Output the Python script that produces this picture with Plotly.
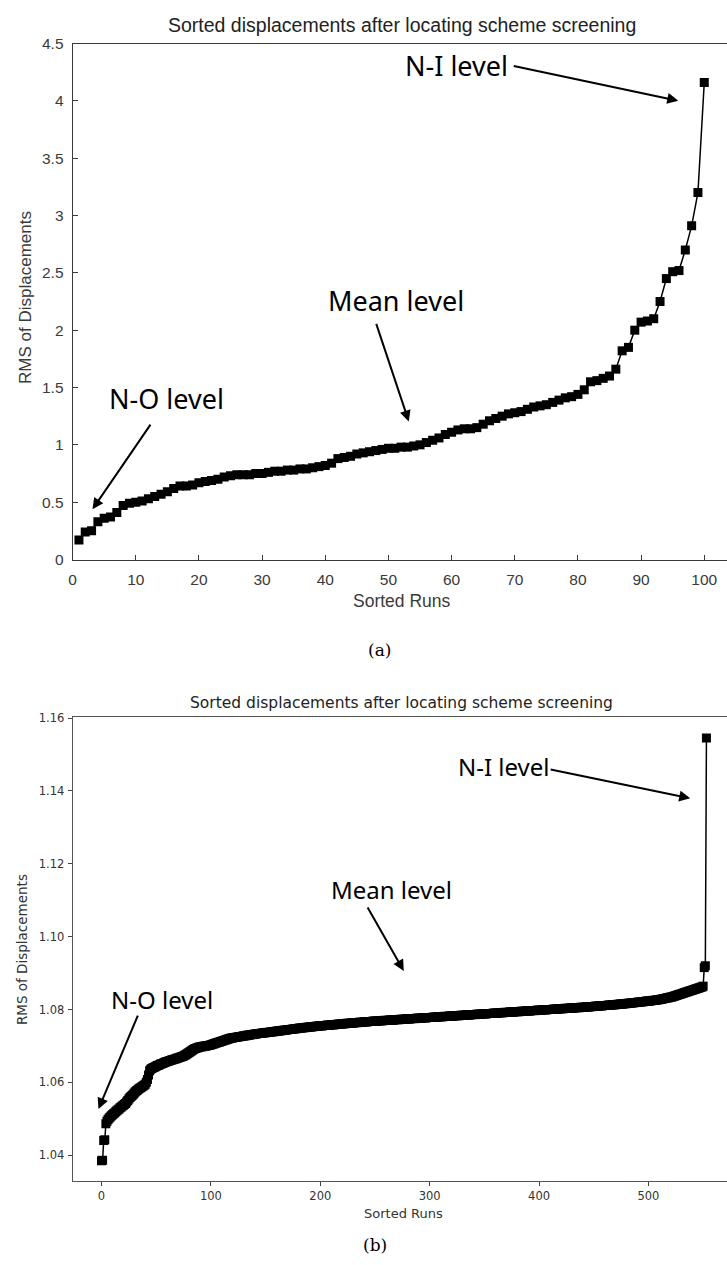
import plotly.graph_objects as go

W, H = 727, 1265

# ---------------- data ----------------
top_runs = list(range(1, 101))
top_rms = [
    0.17, 0.24, 0.25, 0.33, 0.36, 0.37, 0.41, 0.47, 0.49, 0.50,
    0.51, 0.53, 0.55, 0.57, 0.59, 0.62, 0.64, 0.64, 0.65, 0.67,
    0.68, 0.69, 0.70, 0.72, 0.73, 0.74, 0.74, 0.74, 0.75, 0.75,
    0.76, 0.77, 0.77, 0.78, 0.78, 0.79, 0.79, 0.80, 0.81, 0.82,
    0.84, 0.88, 0.89, 0.90, 0.92, 0.93, 0.94, 0.95, 0.96, 0.97,
    0.97, 0.98, 0.98, 0.99, 1.00, 1.02, 1.04, 1.06, 1.09, 1.11,
    1.13, 1.14, 1.14, 1.15, 1.18, 1.21, 1.23, 1.25, 1.27, 1.28,
    1.29, 1.31, 1.33, 1.34, 1.35, 1.37, 1.39, 1.41, 1.42, 1.44,
    1.48, 1.55, 1.56, 1.58, 1.60, 1.66, 1.82, 1.85, 2.00, 2.07,
    2.08, 2.10, 2.25, 2.45, 2.51, 2.52, 2.70, 2.91, 3.20, 4.16,
]

bot_rms = [
    1.0385, 1.0386, 1.0440, 1.0442, 1.0486, 1.0493, 1.0498, 1.0502, 1.0505, 1.0508,
    1.0511, 1.0514, 1.0516, 1.0519, 1.0522, 1.0525, 1.0527, 1.0530, 1.0532, 1.0535,
    1.0537, 1.0540, 1.0542, 1.0546, 1.0550, 1.0554, 1.0558, 1.0561, 1.0564, 1.0567,
    1.0571, 1.0574, 1.0577, 1.0579, 1.0582, 1.0584, 1.0586, 1.0588, 1.0590, 1.0592,
    1.0595, 1.0600, 1.0608, 1.0620, 1.0632, 1.0636, 1.0638, 1.0640, 1.0641, 1.0643,
    1.0644, 1.0646, 1.0647, 1.0648, 1.0650, 1.0651, 1.0652, 1.0654, 1.0655, 1.0656,
    1.0657, 1.0658, 1.0659, 1.0660, 1.0661, 1.0662, 1.0663, 1.0664, 1.0665, 1.0666,
    1.0667, 1.0668, 1.0669, 1.0670, 1.0671, 1.0672, 1.0674, 1.0676, 1.0678, 1.0680,
    1.0682, 1.0684, 1.0686, 1.0688, 1.0690, 1.0692, 1.0693, 1.0694, 1.0695, 1.0696,
    1.0697, 1.0698, 1.0698, 1.0699, 1.0699, 1.0700, 1.0700, 1.0701, 1.0701, 1.0702,
    1.0703, 1.0704, 1.0705, 1.0706, 1.0707, 1.0708, 1.0709, 1.0710, 1.0711, 1.0712,
    1.0713, 1.0714, 1.0715, 1.0716, 1.0717, 1.0718, 1.0719, 1.0720, 1.0721, 1.0722,
    1.0722, 1.0723, 1.0723, 1.0724, 1.0724, 1.0725, 1.0725, 1.0726, 1.0726, 1.0727,
    1.0727, 1.0728, 1.0728, 1.0729, 1.0729, 1.0730, 1.0730, 1.0731, 1.0731, 1.0732,
    1.0732, 1.0733, 1.0733, 1.0734, 1.0734, 1.0734, 1.0735, 1.0735, 1.0736, 1.0736,
    1.0736, 1.0737, 1.0737, 1.0737, 1.0738, 1.0738, 1.0739, 1.0739, 1.0739, 1.0740,
    1.0740, 1.0741, 1.0741, 1.0741, 1.0742, 1.0742, 1.0743, 1.0743, 1.0743, 1.0744,
    1.0744, 1.0745, 1.0745, 1.0745, 1.0746, 1.0746, 1.0747, 1.0747, 1.0747, 1.0748,
    1.0748, 1.0749, 1.0749, 1.0749, 1.0750, 1.0750, 1.0750, 1.0751, 1.0751, 1.0751,
    1.0752, 1.0752, 1.0752, 1.0753, 1.0753, 1.0753, 1.0754, 1.0754, 1.0754, 1.0755,
    1.0755, 1.0755, 1.0755, 1.0756, 1.0756, 1.0756, 1.0757, 1.0757, 1.0757, 1.0757,
    1.0758, 1.0758, 1.0758, 1.0758, 1.0759, 1.0759, 1.0759, 1.0760, 1.0760, 1.0760,
    1.0760, 1.0761, 1.0761, 1.0761, 1.0762, 1.0762, 1.0762, 1.0762, 1.0763, 1.0763,
    1.0763, 1.0763, 1.0764, 1.0764, 1.0764, 1.0764, 1.0765, 1.0765, 1.0765, 1.0765,
    1.0766, 1.0766, 1.0766, 1.0766, 1.0767, 1.0767, 1.0767, 1.0767, 1.0768, 1.0768,
    1.0768, 1.0768, 1.0768, 1.0769, 1.0769, 1.0769, 1.0769, 1.0769, 1.0770, 1.0770,
    1.0770, 1.0770, 1.0770, 1.0771, 1.0771, 1.0771, 1.0771, 1.0771, 1.0772, 1.0772,
    1.0772, 1.0772, 1.0772, 1.0773, 1.0773, 1.0773, 1.0773, 1.0773, 1.0774, 1.0774,
    1.0774, 1.0774, 1.0774, 1.0775, 1.0775, 1.0775, 1.0775, 1.0775, 1.0776, 1.0776,
    1.0776, 1.0776, 1.0776, 1.0777, 1.0777, 1.0777, 1.0777, 1.0777, 1.0778, 1.0778,
    1.0778, 1.0778, 1.0778, 1.0779, 1.0779, 1.0779, 1.0779, 1.0779, 1.0780, 1.0780,
    1.0780, 1.0780, 1.0780, 1.0781, 1.0781, 1.0781, 1.0781, 1.0781, 1.0782, 1.0782,
    1.0782, 1.0782, 1.0782, 1.0783, 1.0783, 1.0783, 1.0783, 1.0783, 1.0784, 1.0784,
    1.0784, 1.0784, 1.0784, 1.0785, 1.0785, 1.0785, 1.0785, 1.0785, 1.0786, 1.0786,
    1.0786, 1.0786, 1.0786, 1.0787, 1.0787, 1.0787, 1.0787, 1.0787, 1.0788, 1.0788,
    1.0788, 1.0788, 1.0788, 1.0789, 1.0789, 1.0789, 1.0789, 1.0789, 1.0790, 1.0790,
    1.0790, 1.0790, 1.0790, 1.0791, 1.0791, 1.0791, 1.0791, 1.0791, 1.0792, 1.0792,
    1.0792, 1.0792, 1.0792, 1.0793, 1.0793, 1.0793, 1.0793, 1.0793, 1.0794, 1.0794,
    1.0794, 1.0794, 1.0794, 1.0795, 1.0795, 1.0795, 1.0795, 1.0795, 1.0796, 1.0796,
    1.0796, 1.0796, 1.0796, 1.0797, 1.0797, 1.0797, 1.0797, 1.0797, 1.0798, 1.0798,
    1.0798, 1.0798, 1.0798, 1.0799, 1.0799, 1.0799, 1.0799, 1.0799, 1.0800, 1.0800,
    1.0800, 1.0800, 1.0800, 1.0801, 1.0801, 1.0801, 1.0801, 1.0801, 1.0802, 1.0802,
    1.0802, 1.0802, 1.0802, 1.0803, 1.0803, 1.0803, 1.0803, 1.0803, 1.0804, 1.0804,
    1.0804, 1.0804, 1.0804, 1.0805, 1.0805, 1.0805, 1.0805, 1.0805, 1.0806, 1.0806,
    1.0806, 1.0806, 1.0806, 1.0807, 1.0807, 1.0807, 1.0807, 1.0808, 1.0808, 1.0808,
    1.0808, 1.0809, 1.0809, 1.0809, 1.0809, 1.0810, 1.0810, 1.0810, 1.0810, 1.0811,
    1.0811, 1.0811, 1.0811, 1.0812, 1.0812, 1.0812, 1.0812, 1.0813, 1.0813, 1.0813,
    1.0813, 1.0814, 1.0814, 1.0814, 1.0815, 1.0815, 1.0815, 1.0815, 1.0816, 1.0816,
    1.0816, 1.0817, 1.0817, 1.0817, 1.0818, 1.0818, 1.0818, 1.0819, 1.0819, 1.0819,
    1.0820, 1.0820, 1.0820, 1.0821, 1.0821, 1.0821, 1.0822, 1.0822, 1.0823, 1.0823,
    1.0823, 1.0823, 1.0824, 1.0824, 1.0825, 1.0825, 1.0825, 1.0826, 1.0826, 1.0827,
    1.0827, 1.0828, 1.0828, 1.0829, 1.0830, 1.0830, 1.0831, 1.0832, 1.0832, 1.0833,
    1.0834, 1.0834, 1.0835, 1.0836, 1.0837, 1.0838, 1.0839, 1.0840, 1.0841, 1.0842,
    1.0843, 1.0844, 1.0845, 1.0846, 1.0847, 1.0848, 1.0849, 1.0850, 1.0851, 1.0852,
    1.0853, 1.0854, 1.0855, 1.0856, 1.0857, 1.0858, 1.0859, 1.0860, 1.0861, 1.0862,
    1.0864, 1.0915, 1.0920, 1.1545,
]
bot_runs = list(range(len(bot_rms)))

top_xticks = [0, 10, 20, 30, 40, 50, 60, 70, 80, 90, 100]
top_yticks = [0, 0.5, 1, 1.5, 2, 2.5, 3, 3.5, 4, 4.5]
bot_xticks = [0, 100, 200, 300, 400, 500]
bot_yticks = [1.04, 1.06, 1.08, 1.10, 1.12, 1.14, 1.16]

title_text = "Sorted displacements after locating scheme screening"


def px(x):
    return x / W


def py(y):
    return 1 - y / H


fig = go.Figure()

fig.add_trace(go.Scatter(
    x=top_runs, y=top_rms, mode="lines+markers", xaxis="x", yaxis="y",
    line=dict(color="black", width=1.5),
    marker=dict(symbol="square", size=9, color="black"),
    showlegend=False, hoverinfo="skip",
))
fig.add_trace(go.Scatter(
    x=bot_runs, y=bot_rms, mode="lines+markers", xaxis="x2", yaxis="y2",
    line=dict(color="black", width=1.5),
    marker=dict(symbol="square", size=9, color="black"),
    showlegend=False, hoverinfo="skip",
))

MAT = "Liberation Sans, Arial"
MPL = "DejaVu Sans"
mat_font = dict(family=MAT, size=15.5, color="#3a3a3a")
mpl_font = dict(family=MPL, size=11.5, color="#333333")

fig.update_layout(
    width=W, height=H,
    margin=dict(l=0, r=0, t=0, b=0),
    paper_bgcolor="white", plot_bgcolor="white",
    xaxis=dict(
        domain=[px(69), 1.0], range=[0, 103.6], anchor="y",
        tickvals=top_xticks, ticks="inside", ticklen=5, tickcolor="#3a3a3a",
        showline=True, linecolor="#3a3a3a", linewidth=1, mirror=True,
        showgrid=False, zeroline=False, tickfont=mat_font, ticklabelstandoff=6,
    ),
    yaxis=dict(
        domain=[py(558), py(35)], range=[0, 4.5], anchor="x",
        tickvals=top_yticks, ticks="inside", ticklen=5, tickcolor="#3a3a3a",
        showline=True, linecolor="#3a3a3a", linewidth=1,
        showgrid=False, zeroline=False, tickfont=mat_font, ticklabelstandoff=5,
    ),
    xaxis2=dict(
        domain=[px(69), 1.0], range=[-26.4, 571.8], anchor="y2",
        tickvals=bot_xticks, ticks="outside", ticklen=4, tickcolor="#444",
        showline=True, linecolor="#555", linewidth=1, mirror=True,
        showgrid=False, zeroline=False, tickfont=mpl_font, ticklabelstandoff=0,
    ),
    yaxis2=dict(
        domain=[py(1188), py(718)], range=[1.0329, 1.1602], anchor="x2",
        tickvals=bot_yticks, tickformat=".2f", ticks="outside", ticklen=4,
        tickcolor="#444", showline=True, linecolor="#555", linewidth=1,
        showgrid=False, zeroline=False, tickfont=mpl_font, ticklabelstandoff=1,
    ),
)

ann = []


def text(x, y, s, size, family, color="black", angle=0, xanchor="center"):
    ann.append(dict(x=px(x), y=py(y), xref="paper", yref="paper", text=s,
                    showarrow=False, xanchor=xanchor, yanchor="middle",
                    textangle=angle, font=dict(family=family, size=size, color=color)))


def arrow(x0, y0, x1, y1):
    ann.append(dict(x=px(x1), y=py(y1), xref="paper", yref="paper", text="",
                    showarrow=True, ax=x0 - x1, ay=y0 - y1, axref="pixel", ayref="pixel",
                    arrowhead=2, arrowsize=1.1, arrowwidth=2, arrowcolor="black"))


# top chart texts
text(400, 16, title_text, 19.5, MAT, "#222")
text(21, 292, "RMS of Displacements", 17, MAT, "#3a3a3a", angle=-90)
text(400, 600, "Sorted Runs", 17.5, MAT, "#3a3a3a")
text(378, 650, "(a)", 17, "DejaVu Serif")
text(401, 57, "N-I level", 27, "Noto Sans", xanchor="left")
arrow(512, 58, 678, 93)
text(324, 295, "Mean level", 27, "Noto Sans", xanchor="left")
arrow(374, 319, 407, 418)
text(104, 395, "N-O level", 27, "Noto Sans", xanchor="left")
arrow(148, 421, 89, 507)

# bottom chart texts
text(400, 703, title_text, 15.5, MPL, "#222")
text(18, 953, "RMS of Displacements", 13.5, MPL, "#333", angle=-90)
text(402, 1221, "Sorted Runs", 13, MPL, "#333")
text(373, 1253, "(b)", 17, "DejaVu Serif")
text(454, 768, "N-I level", 24, "Noto Sans", xanchor="left")
arrow(549, 771, 690, 800)
text(327, 893, "Mean level", 24, "Noto Sans", xanchor="left")
arrow(365, 910, 402, 975)
text(106, 1004, "N-O level", 24, "Noto Sans", xanchor="left")
arrow(135, 1020, 95, 1115)

fig.update_layout(annotations=ann)

fig.write_html("out.html", config={"displayModeBar": False},
               post_script="document.body.style.margin='0px';")
